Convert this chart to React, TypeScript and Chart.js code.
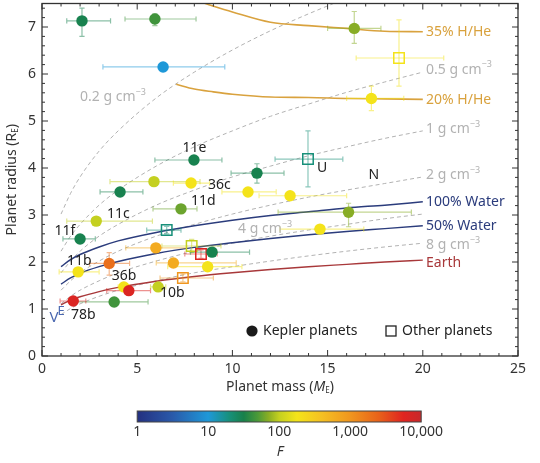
import React, { useEffect, useRef } from "react";
import { Chart, registerables } from "chart.js";

Chart.register(...registerables);

const FONT = '"Noto Sans", "Open Sans", "DejaVu Sans", sans-serif';
Chart.defaults.font.family = FONT;

// ---------- model curves ----------
const modelMass = [1, 1.5, 2, 3, 4, 6, 8, 10, 12, 14, 16, 18, 20];
const density02 = [3.02, 3.46, 3.81, 4.36, 4.79, 5.49, 6.04, 6.51, 6.92, 7.28, 7.61, 7.91, 8.2];
const density05 = [2.23, 2.55, 2.8, 3.21, 3.53, 4.04, 4.45, 4.79, 5.1, 5.36, 5.61, 5.83, 6.04];
const density1 = [1.77, 2.02, 2.23, 2.55, 2.8, 3.21, 3.53, 3.81, 4.04, 4.26, 4.45, 4.63, 4.79];
const density2 = [1.4, 1.6, 1.77, 2.02, 2.23, 2.55, 2.8, 3.02, 3.21, 3.38, 3.53, 3.67, 3.81];
const density4 = [1.11, 1.27, 1.4, 1.6, 1.77, 2.02, 2.23, 2.4, 2.55, 2.68, 2.8, 2.92, 3.02];
const density8 = [0.88, 1.01, 1.11, 1.27, 1.4, 1.6, 1.77, 1.9, 2.02, 2.13, 2.23, 2.32, 2.4];
const water100 = [1.9, 2.05, 2.16, 2.32, 2.45, 2.63, 2.77, 2.89, 2.99, 3.07, 3.15, 3.21, 3.28];
const water50 = [1.53, 1.66, 1.76, 1.9, 2.01, 2.18, 2.31, 2.41, 2.5, 2.58, 2.65, 2.71, 2.77];
const earthLike = [1.09, 1.19, 1.26, 1.37, 1.46, 1.59, 1.69, 1.77, 1.84, 1.9, 1.95, 2.0, 2.04];
const hhe35Mass = [8.4, 10, 12, 14, 16, 18, 20];
const hhe35 = [7.52, 7.32, 7.1, 7.03, 6.97, 6.91, 6.9];
const hhe20Mass = [7.05, 8, 9, 10, 12, 14, 16, 18, 20];
const hhe20 = [5.78, 5.68, 5.62, 5.57, 5.51, 5.5, 5.48, 5.47, 5.46];

// ---------- Kepler planets ----------
const keplerMass = [2.1, 5.93, 6.36, 7.98, 11.29, 5.88, 7.83, 10.82, 13.03, 4.1, 7.3, 2.85, 2.0, 5.98, 8.93, 1.9, 3.53, 6.9, 8.7, 4.3, 4.56, 6.1, 3.79, 1.64, 16.4, 17.3, 16.1, 14.6];
const keplerRadius = [7.13, 7.17, 6.15, 4.17, 3.89, 3.71, 3.68, 3.49, 3.41, 3.49, 3.13, 2.87, 2.49, 2.3, 2.21, 1.79, 1.97, 1.98, 1.9, 1.47, 1.39, 1.47, 1.15, 1.17, 6.97, 5.48, 3.06, 2.7];
const keplerFlux = [30, 45, 10, 30, 30, 100, 180, 180, 180, 30, 60, 100, 30, 630, 30, 180, 2000, 630, 180, 180, 6300, 100, 45, 6300, 70, 180, 70, 180];
const keplerMassLo = [1.3, 4.36, 3.2, 5.93, 9.93, 3.57, 6.9, 9.45, 11.4, 3.05, 5.83, 1.3, 1.1, 4.4, 7.8, 0.9, 2.5, 6.0, 6.6, 4.0, 3.4, 5.7, 1.47, 0.95, 15.0, 16.0, 12.4, 12.5];
const keplerMassHi = [3.6, 8.09, 9.6, 9.45, 12.71, 8.3, 8.8, 12.3, 16.0, 5.3, 8.14, 5.8, 2.8, 7.6, 10.9, 3.0, 4.6, 10.2, 10.5, 4.6, 5.7, 6.5, 5.57, 2.3, 17.8, 19.0, 19.4, 16.9];
const keplerRadiusLo = [6.8, 7.03, 6.15, 4.17, 3.68, 3.71, 3.68, 3.49, 3.41, 3.42, 3.13, 2.87, 2.49, 2.3, 2.21, 1.79, 1.72, 1.98, 1.9, 1.47, 1.39, 1.4, 1.15, 1.17, 6.65, 5.22, 2.75, 2.62];
const keplerRadiusHi = [7.4, 7.28, 6.15, 4.17, 4.09, 3.71, 3.68, 3.49, 3.41, 3.57, 3.13, 2.87, 2.49, 2.3, 2.21, 1.79, 2.2, 1.98, 1.9, 1.47, 1.39, 1.54, 1.15, 1.17, 7.33, 5.74, 3.25, 2.78];

// ---------- Other planets ----------
const otherMass = [6.55, 7.86, 8.35, 7.4, 13.97, 18.75];
const otherRadius = [2.68, 2.34, 2.17, 1.66, 4.19, 6.34];
const otherFlux = [20, 100, 6300, 1000, 20, 180];
const otherMassLo = [5.5, 6.3, 7.5, 6.2, 12.24, 16.5];
const otherMassHi = [7.3, 9.4, 9.2, 9.0, 15.8, 21.1];
const otherRadiusLo = [2.6, 2.2, 2.08, 1.58, 3.6, 5.74];
const otherRadiusHi = [2.76, 2.48, 2.26, 1.74, 4.79, 7.15];

// ---------- colour bar ----------
const fluxTicks = [1, 10, 100, 1000, 10000];
const fluxTickLabels = ["1", "10", "100", "1,000", "10,000"];

// ---------- text annotations ----------
const planetNames = ["11e", "36c", "11d", "11c", "11f", "11b", "36b", "10b", "78b", "U", "N"];
const nameMass = [7.38, 8.72, 7.83, 3.41, 0.66, 1.31, 3.66, 6.2, 1.52, 14.44, 17.15];
const nameRadius = [4.43, 3.64, 3.3, 3.02, 2.66, 2.02, 1.7, 1.34, 0.87, 4.0, 3.85];

const GOLD = "#d9a23e";
const GREY = "#b2b2b2";
const NAVY = "#2b3c7c";
const BROWN = "#a8383a";

const fluxStops: [number, string][] = [
  [0, "#243080"], [0.5, "#2a5aaa"], [1.0, "#1e98d8"], [1.3, "#17907a"], [1.5, "#18804a"],
  [1.7, "#4c9a38"], [1.85, "#8aae24"], [2.0, "#c4d020"], [2.25, "#f4e41a"], [2.6, "#f5c022"],
  [3.0, "#f0961e"], [3.4, "#e8621a"], [3.75, "#e02420"], [4.0, "#c8282a"],
];

function hexToRgb(h: string) {
  const n = parseInt(h.slice(1), 16);
  return [(n >> 16) & 255, (n >> 8) & 255, n & 255];
}
function fluxColor(F: number, a = 1) {
  const t = Math.log10(F);
  let i = 0;
  while (i < fluxStops.length - 2 && t > fluxStops[i + 1][0]) i++;
  const [t0, c0] = fluxStops[i];
  const [t1, c1] = fluxStops[i + 1];
  const u = Math.min(1, Math.max(0, (t - t0) / (t1 - t0)));
  const a0 = hexToRgb(c0), a1 = hexToRgb(c1);
  const c = a0.map((v, k) => Math.round(v + (a1[k] - v) * u));
  return `rgba(${c[0]},${c[1]},${c[2]},${a})`;
}

type Part = { t: string; size?: number; italic?: boolean; dy?: number };
function drawRich(ctx: CanvasRenderingContext2D, parts: Part[], x: number, y: number, align: string, color: string, base = 14) {
  const fonts = parts.map((p) => `${p.italic ? "italic " : ""}${p.size ?? base}px ${FONT}`);
  let w = 0;
  parts.forEach((p, i) => { ctx.font = fonts[i]; w += ctx.measureText(p.t).width; });
  let cx = align === "center" ? x - w / 2 : align === "right" ? x - w : x;
  ctx.textBaseline = "middle";
  ctx.textAlign = "left";
  ctx.fillStyle = color;
  parts.forEach((p, i) => {
    ctx.font = fonts[i];
    ctx.fillText(p.t, cx, y + (p.dy ?? 0));
    cx += ctx.measureText(p.t).width;
  });
}

const sup = (s: string): Part => ({ t: s, size: 9, dy: -5 });
const curveLabels: { parts: Part[]; m: number; r: number; color: string }[] = [
  { parts: [{ t: "35% H/He" }], m: 20.17, r: 6.89, color: GOLD },
  { parts: [{ t: "0.5 g cm" }, sup("−3")], m: 20.17, r: 6.09, color: GREY },
  { parts: [{ t: "20% H/He" }], m: 20.17, r: 5.45, color: GOLD },
  { parts: [{ t: "1 g cm" }, sup("−3")], m: 20.17, r: 4.83, color: GREY },
  { parts: [{ t: "2 g cm" }, sup("−3")], m: 20.17, r: 3.85, color: GREY },
  { parts: [{ t: "100% Water" }], m: 20.17, r: 3.28, color: NAVY },
  { parts: [{ t: "50% Water" }], m: 20.17, r: 2.77, color: NAVY },
  { parts: [{ t: "8 g cm" }, sup("−3")], m: 20.17, r: 2.36, color: GREY },
  { parts: [{ t: "Earth" }], m: 20.17, r: 1.98, color: BROWN },
  { parts: [{ t: "0.2 g cm" }, sup("−3")], m: 2.0, r: 5.51, color: GREY },
  { parts: [{ t: "4 g cm" }, sup("−3")], m: 10.3, r: 2.7, color: GREY },
];

const pts = (xs: number[], ys: number[]) => xs.map((x, i) => ({ x, y: ys[i] }));

function lineSet(xs: number[], ys: number[], color: string, width: number, dash: number[] = []) {
  return {
    data: pts(xs, ys),
    showLine: true,
    pointRadius: 0,
    borderColor: color,
    borderWidth: width,
    borderDash: dash,
    tension: 0.4,
    cubicInterpolationMode: "monotone",
    fill: false,
  };
}

function drawErrorBars(ctx: CanvasRenderingContext2D, xs: any, ys: any, m: number[], r: number[], mLo: number[], mHi: number[], rLo: number[], rHi: number[], F: number[]) {
  const cap = 2.6;
  for (let i = 0; i < m.length; i++) {
    ctx.strokeStyle = fluxColor(F[i], 0.5);
    ctx.lineWidth = 1.2;
    const px = xs.getPixelForValue(m[i]);
    const py = ys.getPixelForValue(r[i]);
    if (mHi[i] > mLo[i]) {
      const a = xs.getPixelForValue(mLo[i]);
      const b = xs.getPixelForValue(mHi[i]);
      ctx.beginPath();
      ctx.moveTo(a, py); ctx.lineTo(b, py);
      ctx.moveTo(a, py - cap); ctx.lineTo(a, py + cap);
      ctx.moveTo(b, py - cap); ctx.lineTo(b, py + cap);
      ctx.stroke();
    }
    if (rHi[i] > rLo[i]) {
      const a = ys.getPixelForValue(rLo[i]);
      const b = ys.getPixelForValue(rHi[i]);
      ctx.beginPath();
      ctx.moveTo(px, a); ctx.lineTo(px, b);
      ctx.moveTo(px - cap, a); ctx.lineTo(px + cap, a);
      ctx.moveTo(px - cap, b); ctx.lineTo(px + cap, b);
      ctx.stroke();
    }
  }
}

const overlay = {
  id: "overlay",
  beforeDatasetDraw(chart: any, args: any) {
    if (args.index !== 1) return;
    const { ctx, chartArea: ca } = chart;
    const xs = chart.scales.x, ys = chart.scales.y;
    ctx.save();
    ctx.beginPath();
    ctx.rect(ca.left, ca.top, ca.right - ca.left, ca.bottom - ca.top);
    ctx.clip();
    drawErrorBars(ctx, xs, ys, otherMass, otherRadius, otherMassLo, otherMassHi, otherRadiusLo, otherRadiusHi, otherFlux);
    drawErrorBars(ctx, xs, ys, keplerMass, keplerRadius, keplerMassLo, keplerMassHi, keplerRadiusLo, keplerRadiusHi, keplerFlux);
    ctx.restore();
  },
  afterDraw(chart: any) {
    const { ctx, chartArea: ca } = chart;
    const xs = chart.scales.x, ys = chart.scales.y;
    ctx.save();
    // frame
    ctx.strokeStyle = "#333";
    ctx.lineWidth = 1.3;
    ctx.strokeRect(ca.left, ca.top, ca.right - ca.left, ca.bottom - ca.top);
    // ticks
    ctx.lineWidth = 1;
    ctx.beginPath();
    for (let v = 0; v <= 25; v++) {
      const len = v % 5 === 0 ? 6 : 3;
      const x = xs.getPixelForValue(v);
      ctx.moveTo(x, ca.bottom); ctx.lineTo(x, ca.bottom - len);
      ctx.moveTo(x, ca.top); ctx.lineTo(x, ca.top + len);
    }
    for (let k = 0; k <= 37; k++) {
      const len = k % 5 === 0 ? 6 : 3;
      const y = ys.getPixelForValue(k * 0.2);
      ctx.moveTo(ca.left, y); ctx.lineTo(ca.left + len, y);
      ctx.moveTo(ca.right, y); ctx.lineTo(ca.right - len, y);
    }
    ctx.stroke();

    // curve labels
    curveLabels.forEach((l) => {
      drawRich(ctx, l.parts, xs.getPixelForValue(l.m), ys.getPixelForValue(l.r), "left", l.color);
    });
    // planet names
    planetNames.forEach((n, i) => {
      drawRich(ctx, [{ t: n }], xs.getPixelForValue(nameMass[i]), ys.getPixelForValue(nameRadius[i]), "left", "#222");
    });
    // Venus and Earth markers
    drawRich(ctx, [{ t: "V", size: 15 }], xs.getPixelForValue(0.63), ys.getPixelForValue(0.81), "center", "#4a68b0");
    drawRich(ctx, [{ t: "E", size: 13 }], xs.getPixelForValue(1.0), ys.getPixelForValue(0.96), "center", "#4a68b0");

    // legend
    const lx = ca.left + 210, ly = ca.bottom - 25;
    ctx.fillStyle = "#1a1a1a";
    ctx.beginPath();
    ctx.arc(lx, ly, 5.6, 0, Math.PI * 2);
    ctx.fill();
    drawRich(ctx, [{ t: "Kepler planets" }], lx + 11, ly, "left", "#222");
    const sx = ca.left + 349;
    ctx.strokeStyle = "#222";
    ctx.lineWidth = 1.3;
    ctx.strokeRect(sx - 5, ly - 5, 10, 10);
    drawRich(ctx, [{ t: "Other planets" }], sx + 11, ly, "left", "#222");

    // axis titles
    drawRich(ctx, [{ t: "Planet mass (" }, { t: "M", italic: true }, { t: "E", size: 8, dy: 4 }, { t: ")" }], (ca.left + ca.right) / 2, ca.bottom + 31, "center", "#333");
    ctx.save();
    ctx.translate(12, (ca.top + ca.bottom) / 2);
    ctx.rotate(-Math.PI / 2);
    drawRich(ctx, [{ t: "Planet radius (R" }, { t: "E", size: 8, dy: 4 }, { t: ")" }], 0, 0, "center", "#333");
    ctx.restore();

    // colour bar
    const x0 = xs.getPixelForValue(5);
    const x1 = x0 + 284;
    const y0 = ca.bottom + 55;
    const h = 11;
    const grad = ctx.createLinearGradient(x0, 0, x1, 0);
    fluxStops.forEach(([t, c]) => grad.addColorStop(t / 4, c));
    ctx.fillStyle = grad;
    ctx.fillRect(x0, y0, x1 - x0, h);
    ctx.strokeStyle = "#444";
    ctx.lineWidth = 1;
    ctx.strokeRect(x0, y0, x1 - x0, h);
    fluxTicks.forEach((f, i) => {
      const x = x0 + ((x1 - x0) * Math.log10(f)) / 4;
      drawRich(ctx, [{ t: fluxTickLabels[i] }], x, y0 + h + 10, "center", "#333");
    });
    drawRich(ctx, [{ t: "F", italic: true }], (x0 + x1) / 2 + 1, y0 + h + 30, "center", "#333");
    ctx.restore();
  },
};

export default function App() {
  const ref = useRef<HTMLCanvasElement>(null);
  useEffect(() => {
    const datasets: any[] = [
      {
        data: pts(keplerMass, keplerRadius),
        pointStyle: "circle",
        pointRadius: 5.7,
        pointBackgroundColor: keplerFlux.map((f) => fluxColor(f)),
        pointBorderWidth: 0,
        showLine: false,
      },
      {
        data: pts(otherMass, otherRadius),
        pointStyle: "rect",
        pointRadius: 7.4,
        pointBackgroundColor: "rgba(255,255,255,0)",
        pointBorderColor: otherFlux.map((f) => fluxColor(f)),
        pointBorderWidth: 1.5,
        showLine: false,
      },
      lineSet(modelMass, earthLike, BROWN, 1.4),
      lineSet(modelMass, water50, NAVY, 1.4),
      lineSet(modelMass, water100, NAVY, 1.5),
      lineSet(hhe20Mass, hhe20, GOLD, 1.6),
      lineSet(hhe35Mass, hhe35, GOLD, 1.6),
      lineSet(modelMass, density02, GREY, 1, [4, 3]),
      lineSet(modelMass, density05, GREY, 1, [4, 3]),
      lineSet(modelMass, density1, GREY, 1, [4, 3]),
      lineSet(modelMass, density2, GREY, 1, [4, 3]),
      lineSet(modelMass, density4, GREY, 1, [4, 3]),
      lineSet(modelMass, density8, GREY, 1, [4, 3]),
    ];
    const chart = new Chart(ref.current as HTMLCanvasElement, {
      type: "scatter",
      data: { datasets },
      options: {
        animation: false,
        responsive: true,
        maintainAspectRatio: false,
        events: [],
        layout: { autoPadding: false, padding: { top: 3.5, right: 22, bottom: 85, left: 0 } },
        plugins: { legend: { display: false }, tooltip: { enabled: false } },
        scales: {
          x: {
            type: "linear",
            min: 0,
            max: 25,
            grid: { display: false, drawTicks: false },
            border: { display: false },
            ticks: { stepSize: 5, includeBounds: false, maxRotation: 0, padding: 5, color: "#333", font: { size: 14, family: FONT } },
            afterFit: (s: any) => { s.height = 22; s.paddingLeft = 0; s.paddingRight = 0; },
          },
          y: {
            type: "linear",
            min: 0,
            max: 7.5,
            grid: { display: false, drawTicks: false },
            border: { display: false },
            ticks: {
              stepSize: 1,
              includeBounds: false,
              padding: 6,
              color: "#333",
              font: { size: 14, family: FONT },
              callback: (v: any) => (Number.isInteger(v) ? String(v) : ""),
            },
            afterFit: (s: any) => { s.width = 42; s.paddingTop = 0; s.paddingBottom = 0; },
          },
        },
      } as any,
      plugins: [overlay],
    });
    return () => chart.destroy();
  }, []);
  return (
    <div style={{ position: "absolute", left: 0, top: 0, width: 540, height: 463, background: "#fff" }}>
      <canvas ref={ref} />
    </div>
  );
}
